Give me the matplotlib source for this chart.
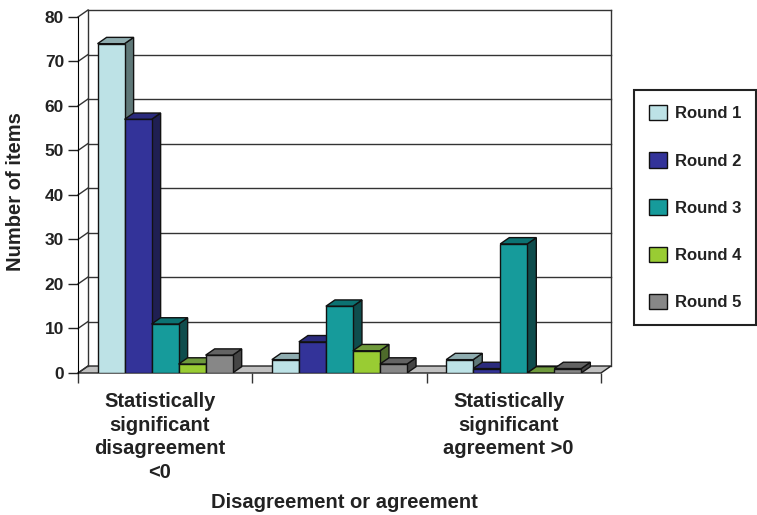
import numpy as np
import matplotlib
matplotlib.use("Agg")
import matplotlib.pyplot as plt
from matplotlib.patches import Polygon

plt.rcParams['font.family'] = ['Liberation Sans', 'DejaVu Sans']
plt.rcParams['font.weight'] = 'bold'

# Datos por ronda (número de ítems en cada categoría)
categorias = ['Statistically\nsignificant\ndisagreement\n<0', '',
              'Statistically\nsignificant\nagreement >0']
rondas = ['Round 1', 'Round 2', 'Round 3', 'Round 4', 'Round 5']
ronda1 = [74, 3, 3]
ronda2 = [57, 7, 1]
ronda3 = [11, 15, 29]
ronda4 = [2, 5, 0]
ronda5 = [4, 2, 1]
valores = [ronda1, ronda2, ronda3, ronda4, ronda5]

# Colores: frente, techo, lateral
frente = ['#bde2e6', '#333399', '#169b9b', '#99cc33', '#878787']
techo = ['#8fadb0', '#2b2b7d', '#0c7272', '#6f9a3c', '#636363']
lateral = ['#5f7878', '#1f1f52', '#0f4d4d', '#4e6b2b', '#454545']

ymax = 80
ncat = len(categorias)
# Profundidad del efecto 3D (en unidades de datos)
dx, dy = 0.0575, 1.57     # pared del fondo
bdx, bdy = 0.052, 1.42    # barras
ancho = 0.155
inicio = 0.112

fig = plt.figure(figsize=(7.57, 5.15), dpi=100)
ax = fig.add_axes([78/757, 142/515, 533/757, 363/515])
ax.set_xlim(0, ncat + dx)
ax.set_ylim(0, ymax + dy)
ax.patch.set_visible(False)

linea = dict(color='#333333', lw=1.0, zorder=1, clip_on=False)

# Suelo gris
ax.add_patch(Polygon([(0, 0), (ncat, 0), (ncat + dx, dy), (dx, dy)],
                     closed=True, facecolor='#c0c0c0', edgecolor='#222222',
                     lw=1.0, zorder=1, clip_on=False))

# Pared lateral y pared del fondo con la cuadrícula
for v in np.arange(10, ymax + 1, 10):
    ax.plot([0, dx], [v, v + dy], **linea)
    ax.plot([dx, ncat + dx], [v + dy, v + dy], **linea)
ax.plot([dx, dx], [dy, ymax + dy], **linea)
ax.plot([ncat + dx, ncat + dx], [dy, ymax + dy], **linea)
ax.plot([0, dx], [0, dy], **linea)

# Barras con caras frontal, lateral y superior
x = np.arange(ncat)
handles = []
for s, vals in enumerate(valores):
    xs = x + inicio + s * ancho
    zf = 4 + 2 * s
    for xi, h in zip(xs, vals):
        lado = [(xi + ancho, 0), (xi + ancho + bdx, bdy),
                (xi + ancho + bdx, h + bdy), (xi + ancho, h)]
        arriba = [(xi, h), (xi + bdx, h + bdy),
                  (xi + ancho + bdx, h + bdy), (xi + ancho, h)]
        ax.add_patch(Polygon(lado, closed=True, facecolor=lateral[s],
                             edgecolor='#111111', lw=1.0, zorder=zf - 1))
        ax.add_patch(Polygon(arriba, closed=True, facecolor=techo[s],
                             edgecolor='#111111', lw=1.0, zorder=zf - 1))
    b = ax.bar(xs, vals, ancho, align='edge', color=frente[s],
               edgecolor='#111111', lw=1.0, zorder=zf, label=rondas[s])
    handles.append(b)

# Ejes
for lado in ['top', 'right', 'bottom']:
    ax.spines[lado].set_visible(False)
ax.spines['left'].set_bounds(0, ymax)
ax.spines['left'].set_zorder(2)

ax.set_yticks(np.arange(0, ymax + 1, 10))
ax.tick_params(axis='y', direction='out', length=7, width=1, pad=3,
               labelsize=12.5, colors='#222222')
ax.set_xticks(np.arange(ncat + 1))
ax.set_xticklabels([])
# etiquetas de categoría un poco a la izquierda del centro
ax.set_xticks(x + 0.47, minor=True)
ax.set_xticklabels(categorias, minor=True, fontsize=14.5, fontweight='bold',
                   color='#222222', linespacing=1.3)
ax.tick_params(axis='x', which='major', direction='out', length=7, width=1,
               colors='#333333')
ax.tick_params(axis='x', which='minor', length=0, pad=14)

ax.set_ylabel('Number of items', fontsize=14.5, fontweight='bold',
              color='#222222', labelpad=14)
ax.set_xlabel('Disagreement or agreement', fontsize=14.5, fontweight='bold',
              color='#222222', labelpad=8)

leg = fig.legend(handles=handles, loc='upper left',
                 bbox_to_anchor=(634/757, 1 - 90/515), fontsize=12,
                 handlelength=1.05, handleheight=1.05, handletextpad=0.5,
                 labelspacing=1.85, borderpad=0.9, borderaxespad=0,
                 fancybox=False, framealpha=1, edgecolor='#222222')
leg.get_frame().set_linewidth(1.5)
for t in leg.get_texts():
    t.set_color('#222222')

fig.savefig('out.png', dpi=100)
